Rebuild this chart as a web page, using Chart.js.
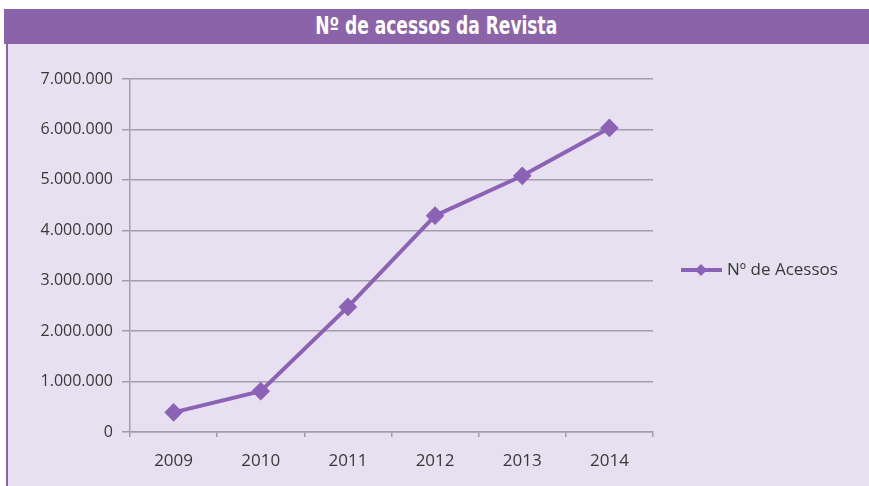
<!DOCTYPE html>
<html>
<head>
<meta charset="utf-8">
<script src="https://cdn.jsdelivr.net/npm/chart.js@4"></script>
<style>
  html, body { margin: 0; padding: 0; background: #fff; }
  #wrap { position: relative; width: 869px; height: 486px; overflow: hidden; }
  #head {
    position: absolute; left: 4px; top: 9px; width: 865px; height: 35px;
    background: #8b63a9; color: #fff; text-align: center;
    font: bold 24px "DejaVu Sans", sans-serif; font-stretch: condensed;
    line-height: 35px;
  }
  #head span { display: inline-block; transform: scaleX(0.79); }
  #panel {
    position: absolute; left: 6px; top: 44px; width: 863px; height: 442px;
    background: #e7e0f0; border-left: 2px solid #8b63a9; box-sizing: border-box;
  }
  canvas { position: absolute; left: 0; top: 0; }
</style>
</head>
<body>
<div id="wrap">
  <div id="head"><span>Nº de acessos da Revista</span></div>
  <div id="panel"></div>
  <canvas id="acessosChart" width="869" height="486"></canvas>
</div>
<script>
const anos = ['2009', '2010', '2011', '2012', '2013', '2014'];
const acessos = [390000, 810000, 2480000, 4290000, 5080000, 6030000];
const nomeSerie = 'Nº de Acessos';

const roxo = '#8b62b6';
const grade = '#a29daa';
const texto = '#383838';

// formata 7000000 -> 7.000.000
function milhar(v) {
  return String(v).replace(/\B(?=(\d{3})+(?!\d))/g, '.');
}

// legenda desenhada à mão, como no original
const legendaPlugin = {
  id: 'legendaManual',
  afterDraw(chart) {
    const ctx = chart.ctx;
    const y = 270;
    ctx.save();
    ctx.strokeStyle = roxo;
    ctx.lineWidth = 4;
    ctx.beginPath();
    ctx.moveTo(681, y);
    ctx.lineTo(722, y);
    ctx.stroke();
    ctx.fillStyle = roxo;
    ctx.beginPath();
    ctx.moveTo(701, y - 6);
    ctx.lineTo(707, y);
    ctx.lineTo(701, y + 6);
    ctx.lineTo(695, y);
    ctx.closePath();
    ctx.fill();
    ctx.fillStyle = texto;
    ctx.font = '17px "Open Sans", sans-serif';
    ctx.textBaseline = 'middle';
    ctx.fillText(nomeSerie, 727, y);
    ctx.restore();
  }
};

new Chart(document.getElementById('acessosChart').getContext('2d'), {
  type: 'line',
  data: {
    labels: anos,
    datasets: [{
      label: nomeSerie,
      data: acessos,
      borderColor: roxo,
      backgroundColor: roxo,
      borderWidth: 4,
      pointStyle: 'rectRot',
      pointRadius: 6.5,
      pointHoverRadius: 6.5,
      tension: 0
    }]
  },
  options: {
    responsive: false,
    animation: false,
    layout: { padding: { left: 0, right: 216, top: 79, bottom: 0 } },
    plugins: { legend: { display: false }, tooltip: { enabled: false } },
    scales: {
      x: {
        offset: true,
        afterFit(s) { s.height = 54; },
        grid: { offset: true, drawOnChartArea: false, color: grade, lineWidth: 1.5, tickLength: 5 },
        border: { color: grade, width: 1.5 },
        ticks: { color: texto, font: { family: 'Open Sans', size: 17 }, padding: 14 }
      },
      y: {
        min: 0, max: 7000000,
        afterFit(s) { s.width = 130; },
        grid: { color: grade, lineWidth: 1.5, tickLength: 8 },
        border: { color: grade, width: 1.5 },
        ticks: {
          stepSize: 1000000,
          color: texto,
          font: { family: 'Open Sans', size: 16 },
          padding: 9,
          callback: v => milhar(v)
        }
      }
    }
  },
  plugins: [legendaPlugin]
});
</script>
</body>
</html>
